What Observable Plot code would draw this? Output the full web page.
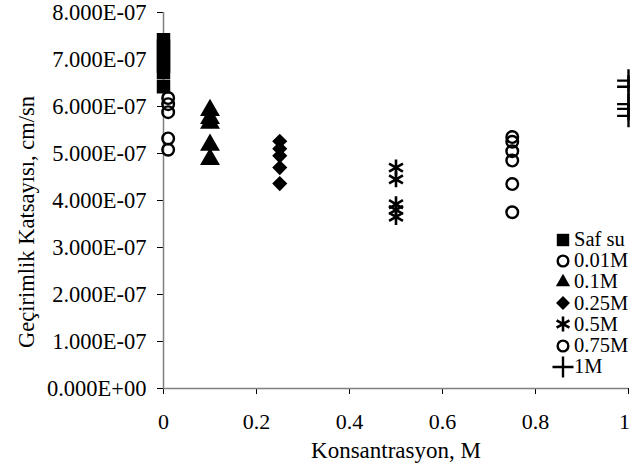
<!DOCTYPE html>
<html>
<head>
<meta charset="utf-8">
<script src="https://cdn.jsdelivr.net/npm/d3@7"></script>
<script src="https://cdn.jsdelivr.net/npm/@observablehq/plot@0.6"></script>
<style>
  html, body { margin: 0; padding: 0; background: white; }
  #wrap { position: relative; width: 630px; height: 470px; font-family: "Liberation Serif", "Times New Roman", serif; }
  #ytitle { position: absolute; left: 27px; top: 222px; transform: translate(-50%, -50%) rotate(-90deg); white-space: nowrap; font-size: 22.5px; color: #000; }
  #xtitle { position: absolute; left: 396px; top: 451px; transform: translate(-50%, -50%); white-space: nowrap; font-size: 23px; color: #000; }
  #legend { position: absolute; left: 555px; top: 229px; font-size: 20.5px; line-height: 21px; color: #000; }
  #legend div { display: flex; align-items: center; height: 21.2px; }
  #legend svg { width: 16px; height: 16px; margin-right: 3px; overflow: visible; }
</style>
</head>
<body>
<div id="wrap">
  <div id="chart"></div>
  <div id="ytitle"></div>
  <div id="xtitle"></div>
  <div id="legend"></div>
</div>
<script>
// ---- data ----
const seriesNames = ["Saf su", "0.01M", "0.1M", "0.25M", "0.5M", "0.75M", "1M"];
const seriesX = [0, 0.01, 0.1, 0.25, 0.5, 0.75, 1];
const safSu   = [7.42e-7, 7.28e-7, 7.14e-7, 7.00e-7, 6.86e-7, 6.72e-7, 6.42e-7];
const m001    = [6.18e-7, 6.05e-7, 5.88e-7, 5.32e-7, 5.08e-7];
const m01     = [5.92e-7, 5.75e-7, 5.65e-7, 5.18e-7, 4.88e-7];
const m025    = [5.26e-7, 5.10e-7, 4.95e-7, 4.70e-7, 4.36e-7];
const m05     = [4.70e-7, 4.45e-7, 3.92e-7, 3.80e-7, 3.65e-7];
const m075    = [5.35e-7, 5.25e-7, 5.05e-7, 4.85e-7, 4.35e-7, 3.75e-7];
const m1      = [6.55e-7, 6.42e-7, 6.05e-7, 5.95e-7, 5.80e-7];
const xTicks = [0, 0.2, 0.4, 0.6, 0.8, 1];
const yTicks = [0, 1e-7, 2e-7, 3e-7, 4e-7, 5e-7, 6e-7, 7e-7, 8e-7];
const xTitle = "Konsantrasyon, M";
const yTitle = "Geçirimlik Katsayısı, cm/sn";

const allSeries = [safSu, m001, m01, m025, m05, m075, m1];
const styles = [
  {symbol: "square", fill: "black", stroke: "none", r: 7.6},
  {symbol: "circle", fill: "none", stroke: "black", r: 5.8, sw: 2.4},
  {symbol: "triangle", fill: "black", stroke: "none", r: 7.4},
  {symbol: "diamond2", fill: "black", stroke: "none", r: 6.8},
  {symbol: "asterisk", fill: "none", stroke: "black", r: 7.6, sw: 2.6},
  {symbol: "circle", fill: "none", stroke: "black", r: 5.8, sw: 2.4},
  {symbol: "plus", fill: "none", stroke: "black", r: 7.4, sw: 2.4}
];

function fmt(d) {
  if (Math.abs(d) < 1e-20) return "0.000E+00";
  const e = Math.floor(Math.log10(d) + 1e-9);
  const m = d / Math.pow(10, e);
  return m.toFixed(3) + "E" + (e < 0 ? "-" : "+") + String(Math.abs(e)).padStart(2, "0");
}

const dotMarks = allSeries.map((vals, i) => {
  const s = styles[i];
  const data = vals.map(v => ({x: seriesX[i], y: v}));
  return Plot.dot(data, {x: "x", y: "y", symbol: () => s.symbol, r: s.r,
    fill: s.fill, stroke: s.stroke, strokeWidth: s.sw || 0});
});

const lastX = xTicks[xTicks.length - 1];
const chart = Plot.plot({
  width: 630, height: 470,
  marginLeft: 163, marginRight: 2, marginTop: 12, marginBottom: 82,
  x: {domain: [0, 1]},
  y: {domain: [0, 8e-7]},
  symbol: {type: "identity"},
  style: {fontFamily: "Liberation Serif, Times New Roman, serif", fontSize: "22px", background: "white", color: "black", overflow: "hidden"},
  marks: [
    Plot.axisY({ticks: yTicks, tickFormat: fmt, tickSize: 6, tickPadding: 11, label: null, stroke: "black", fontSize: 22.5}),
    Plot.axisX({ticks: xTicks, tickFormat: d => (d === lastX ? "" : String(d)), tickSize: 6, tickPadding: 19, label: null, stroke: "black", fontSize: 22}),
    Plot.axisX({ticks: [lastX], tickFormat: d => String(d), tickSize: 0, tickPadding: 25, label: null, fontSize: 22, dx: -4}),
    Plot.ruleX([0], {stroke: "#808080", strokeWidth: 1.5}),
    Plot.ruleY([0], {stroke: "#808080", strokeWidth: 1.5}),
    ...dotMarks
  ]
});
document.getElementById("chart").appendChild(chart);
document.getElementById("ytitle").textContent = yTitle;
document.getElementById("xtitle").textContent = xTitle;

// legend
const legend = document.getElementById("legend");
seriesNames.forEach((name, i) => {
  const s = styles[i];
  const row = document.createElement("div");
  const sym = d3.symbol().type({
    square: d3.symbolSquare, circle: d3.symbolCircle, triangle: d3.symbolTriangle2,
    diamond2: d3.symbolDiamond2, asterisk: d3.symbolAsterisk, plus: d3.symbolPlus
  }[s.symbol]).size(Math.PI * s.r * s.r * 0.85)();
  row.innerHTML = `<svg viewBox="-8 -8 16 16"><path d="${sym}" fill="${s.fill}" stroke="${s.stroke}" stroke-width="${s.sw || 0}"/></svg><span>${name}</span>`;
  legend.appendChild(row);
});
</script>
</body>
</html>
